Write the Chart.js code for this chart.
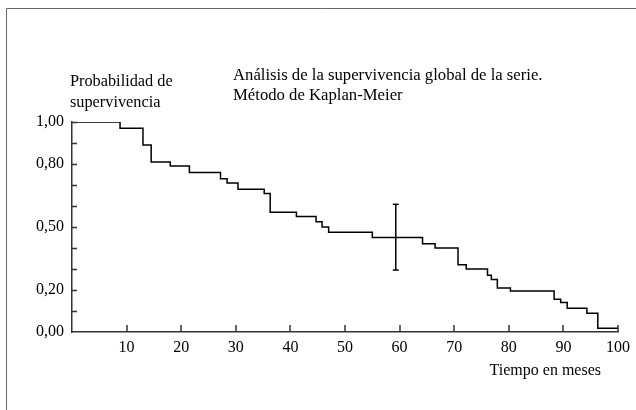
<!DOCTYPE html>
<html>
<head>
<meta charset="utf-8">
<script src="https://cdn.jsdelivr.net/npm/chart.js@4/dist/chart.umd.min.js"></script>
<style>
  body { margin: 0; background: #fff; }
  #wrap { width: 636px; height: 410px; }
</style>
</head>
<body>
<div id="wrap"><canvas id="km" width="636" height="410"></canvas></div>
<script>
// Kaplan-Meier: time of each drop (months) and survival after it
const months = [0, 8.8, 13, 14.5, 18, 21.5, 27.2, 28.4, 30.4, 35.2, 36.3, 41.1, 44.7, 45.8, 47,
    55, 64.2, 66.5, 70.7, 72.2, 76.1, 76.8, 77.9, 80.3, 88.3, 89.5, 90.7, 94.3, 96.3, 100];
const survival = [1.00, 0.97, 0.89, 0.81, 0.79, 0.76, 0.73, 0.71, 0.68, 0.66, 0.57, 0.55, 0.525, 0.50, 0.475,
    0.45, 0.42, 0.40, 0.32, 0.30, 0.27, 0.25, 0.21, 0.195, 0.156, 0.14, 0.113, 0.089, 0.018, 0.018];

// confidence interval drawn at the median
const ciMonth = [59.3, 59.3];
const ciBounds = [0.295, 0.608];

const xTicks = [10, 20, 30, 40, 50, 60, 70, 80, 90, 100];
const yTickValues = [0, 0.2, 0.5, 0.8, 1.0];
const yTickLabels = ['0,00', '0,20', '0,50', '0,80', '1,00'];

const titleLines = ['Análisis de la supervivencia global de la serie.', 'Método de Kaplan-Meier'];
const yTitleLines = ['Probabilidad de', 'supervivencia'];
const xTitle = 'Tiempo en meses';

const FONT = '"Liberation Serif", "Times New Roman", serif';

const decorations = {
    id: 'decorations',
    beforeDraw(chart) {
        const ctx = chart.ctx;
        ctx.save();
        ctx.strokeStyle = '#666';
        ctx.lineWidth = 1;
        ctx.beginPath();
        ctx.moveTo(6.5, 410);
        ctx.lineTo(6.5, 8.5);
        ctx.lineTo(636, 8.5);
        ctx.stroke();
        ctx.restore();
    },
    afterDraw(chart) {
        const ctx = chart.ctx;
        const x = chart.scales.x, y = chart.scales.y;
        ctx.save();
        ctx.strokeStyle = '#333';
        ctx.lineWidth = 1.5;
        ctx.beginPath();
        for (let v = 1; v <= 10; v++) {
            const py = Math.round(y.getPixelForValue(v / 10)) + 0.5;
            ctx.moveTo(x.left, py);
            ctx.lineTo(x.left + 5, py);
        }
        xTicks.forEach(function (v) {
            const px = Math.round(x.getPixelForValue(v));
            ctx.moveTo(px, y.bottom);
            ctx.lineTo(px, y.bottom - 7);
        });
        ctx.stroke();

        ctx.fillStyle = '#000';
        ctx.textBaseline = 'middle';
        ctx.textAlign = 'left';
        ctx.font = '16.7px ' + FONT;
        titleLines.forEach(function (t, i) { ctx.fillText(t, 233, 76 + i * 20); });
        ctx.font = '16.3px ' + FONT;
        yTitleLines.forEach(function (t, i) { ctx.fillText(t, 70, 82 + i * 21); });
        ctx.font = '16px ' + FONT;
        ctx.textAlign = 'right';
        ctx.fillText(xTitle, 601, 371);
        ctx.restore();
    }
};

new Chart(document.getElementById('km'), {
    type: 'line',
    data: {
        datasets: [{
            data: months.map(function (m, i) { return { x: m, y: survival[i] }; }),
            stepped: true,
            borderColor: '#000',
            borderWidth: 1.5,
            pointRadius: 0,
            fill: false
        }, {
            data: ciMonth.map(function (m, i) { return { x: m, y: ciBounds[i] }; }),
            borderColor: '#000',
            borderWidth: 1.5,
            pointStyle: 'line',
            pointRadius: 3,
            pointBorderColor: '#000',
            pointBorderWidth: 1.5,
            fill: false
        }]
    },
    options: {
        responsive: false,
        animation: false,
        layout: { padding: { top: 122, right: 16, bottom: 0, left: 0 } },
        plugins: { legend: { display: false }, tooltip: { enabled: false } },
        scales: {
            x: {
                type: 'linear',
                min: 0,
                max: 100,
                afterFit: function (s) { s.height = 78; },
                afterBuildTicks: function (s) { s.ticks = xTicks.map(function (v) { return { value: v }; }); },
                grid: { display: false, drawTicks: false },
                border: { display: true, color: '#333', width: 1.5 },
                ticks: {
                    padding: 6,
                    maxRotation: 0,
                    autoSkip: false,
                    color: '#000',
                    font: { family: FONT, size: 16 },
                    callback: function (v) { return String(v); }
                }
            },
            y: {
                min: 0,
                max: 1,
                afterFit: function (s) { s.width = 72; },
                afterBuildTicks: function (s) { s.ticks = yTickValues.map(function (v) { return { value: v }; }); },
                grid: { display: false, drawTicks: false },
                border: { display: true, color: '#333', width: 1.5 },
                ticks: {
                    padding: 8,
                    autoSkip: false,
                    color: '#000',
                    font: { family: FONT, size: 16 },
                    callback: function (v) {
                        const i = yTickValues.findIndex(function (t) { return Math.abs(t - v) < 1e-6; });
                        return i >= 0 ? yTickLabels[i] : '';
                    }
                }
            }
        }
    },
    plugins: [decorations]
});
</script>
</body>
</html>
